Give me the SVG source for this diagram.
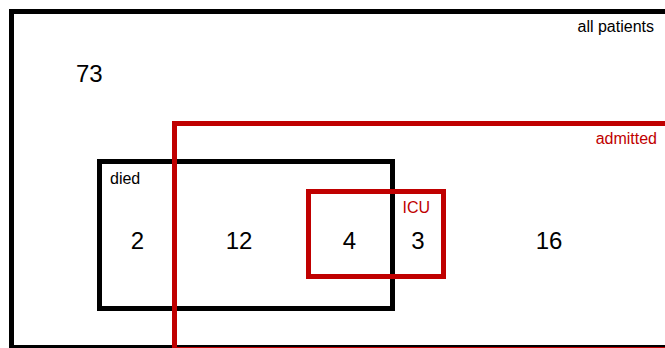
<svg xmlns="http://www.w3.org/2000/svg" width="665" height="348" viewBox="0 0 665 348">
<style>
.blk{fill:none;stroke:#000;stroke-width:5}
.red{fill:none;stroke:#c00000;stroke-width:5}
.t{font-family:"Liberation Sans",Arial,sans-serif;fill:#000}
.num{font-size:24px;text-anchor:middle}
.lbl{font-size:16px}
.rt{fill:#c00000}
</style>
<rect width="665" height="348" fill="#fff"/>
<g id="all-patients">
<rect class="blk" x="11.5" y="11.5" width="700" height="336"/>
<text class="t lbl" x="654" y="32" text-anchor="end">all patients</text>
<text class="t" x="76" y="82" font-size="24">73</text>
</g>
<g id="died">
<rect class="blk" x="99.5" y="161.5" width="293" height="147"/>
<text class="t lbl" x="110" y="184">died</text>
</g>
<g id="admitted">
<rect class="red" x="174.5" y="123.5" width="540" height="226"/>
<text class="t lbl rt" x="657" y="144" text-anchor="end">admitted</text>
</g>
<g id="icu">
<rect class="red" x="308.5" y="191.5" width="135" height="85"/>
<text class="t lbl rt" x="402.5" y="213">ICU</text>
</g>
<g id="counts">
<text class="t num" x="137.5" y="249">2</text>
<text class="t num" x="239" y="249">12</text>
<text class="t num" x="349.5" y="249">4</text>
<text class="t num" x="418" y="249">3</text>
<text class="t num" x="549" y="249">16</text>
</g>
<g id="connectors"></g>
</svg>
